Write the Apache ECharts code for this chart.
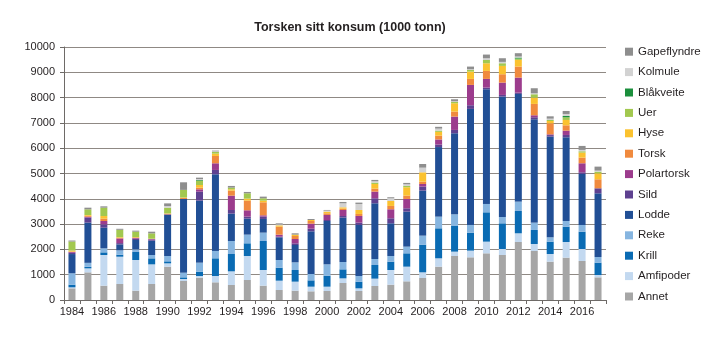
<!DOCTYPE html>
<html>
<head>
<meta charset="utf-8">
<script src="https://cdn.jsdelivr.net/npm/echarts@6/dist/echarts.min.js"></script>
<style>
html,body{margin:0;padding:0;background:#fff;}
#c{width:719px;height:341px;}
</style>
</head>
<body>
<div id="c"></div>
<script>
const years = ['1984','1985','1986','1987','1988','1989','1990','1991','1992','1993','1994','1995','1996','1997','1998','1999','2000','2001','2002','2003','2004','2005','2006','2007','2008','2009','2010','2011','2012','2013','2014','2015','2016','2017'];

const annet      = [461,1093,566,632,369,632,1317,750,883,699,593,791,567,395,369,343,356,672,356,554,606,738,870,1318,1740,1687,1845,1779,2293,1937,1516,1674,1542,896];
const amfipoder  = [40,158,1212,1080,1212,777,132,79,66,250,540,949,619,369,356,184,171,184,105,290,580,580,224,330,171,264,461,237,343,277,303,619,474,92];
const krill      = [105,60,105,79,316,237,79,66,171,699,685,501,1147,514,461,250,435,356,264,540,330,527,1094,1186,1015,712,1160,1015,883,554,488,606,685,488];
const reke       = [450,158,158,171,105,132,211,184,356,290,514,343,330,303,303,250,448,290,224,237,224,264,356,461,461,303,330,250,369,290,171,224,264,224];
const lodde      = [760,1590,817,237,369,566,1620,2913,2451,3031,1081,633,540,896,685,1687,1713,1753,2017,2201,1292,1384,1779,2750,3203,4587,4534,4758,4257,4086,3980,3308,2017,2517];
const sild       = [50,200,132,50,53,40,26,0,356,171,145,79,92,26,66,105,40,66,92,198,198,132,158,100,132,145,66,66,53,79,60,92,66,198];
const polartorsk = [30,30,132,184,40,26,0,0,92,264,567,250,53,79,171,198,198,237,264,264,356,369,105,200,527,804,343,488,593,79,30,171,356,0];
const torsk      = [20,40,92,26,0,0,26,40,66,290,198,382,514,316,119,105,66,53,79,119,132,132,92,150,198,237,316,330,435,448,435,211,224,356];
const hyse       = [40,30,105,26,26,13,13,20,105,92,53,79,66,53,53,40,66,53,158,184,198,330,369,150,330,290,303,330,264,250,92,211,198,237];
const uer        = [355,224,330,290,211,211,224,300,171,66,66,211,92,0,0,0,0,0,0,53,0,53,0,50,53,66,132,105,53,132,40,105,53,66];
const blakveite  = [0,0,0,0,0,0,0,0,26,0,0,0,0,0,0,0,0,0,0,0,0,0,0,0,0,0,0,0,40,0,0,53,0,0];
const kolmule    = [0,0,0,0,0,0,66,0,40,26,0,0,0,40,0,0,40,158,237,53,105,66,184,80,26,26,66,53,40,40,53,79,53,40];
const gapeflyndre= [40,66,53,40,40,66,105,300,53,26,66,53,66,40,53,40,26,53,53,53,40,53,145,70,79,105,145,145,132,198,92,119,158,158];

const yTicks = ['0','1000','2000','3000','4000','5000','6000','7000','8000','9000','10000'];

const seriesDefs = [
  ['Annet', annet, '#a6a6a6'],
  ['Amfipoder', amfipoder, '#c3d9f0'],
  ['Krill', krill, '#0a6bb3'],
  ['Reke', reke, '#86b5e0'],
  ['Lodde', lodde, '#214f95'],
  ['Sild', sild, '#5e4190'],
  ['Polartorsk', polartorsk, '#9c3c8d'],
  ['Torsk', torsk, '#f08a3e'],
  ['Hyse', hyse, '#fbc22f'],
  ['Uer', uer, '#a2c84f'],
  ['Blåkveite', blakveite, '#1b8f3c'],
  ['Kolmule', kolmule, '#d2d2d2'],
  ['Gapeflyndre', gapeflyndre, '#8e8e8e']
];

const font = '"Liberation Sans", Arial, sans-serif';
const chart = echarts.init(document.getElementById('c'), null, {renderer:'canvas'});
chart.setOption({
  animation:false,
  backgroundColor:'#ffffff',
  title:{
    text:'Torsken sitt konsum (1000 tonn)',
    left:345, top:16, textAlign:'center',
    textStyle:{fontFamily:'"Liberation Sans Narrow", "Liberation Sans", sans-serif', fontSize:12.5, fontWeight:'bold', color:'#231f20'}
  },
  legend:{
    orient:'vertical',
    left:620, top:40.7,
    itemWidth:8, itemHeight:8, itemGap:8.4,
    icon:'rect',
    data:seriesDefs.map(s=>s[0]).reverse(),
    textStyle:{fontFamily:font, fontSize:11.5, color:'#231f20', lineHeight:12}
  },
  grid:{left:64, right:113, top:47, bottom:41, containLabel:false},
  xAxis:{
    type:'category',
    data:years,
    boundaryGap:true,
    axisLine:{show:true, lineStyle:{color:'#6e6a67', width:1}},
    axisTick:{show:true, interval:0, length:4, lineStyle:{color:'#6e6a67'}},
    axisLabel:{interval:1, fontFamily:font, fontSize:11, color:'#231f20', margin:6},
    splitLine:{show:false}
  },
  yAxis:{
    type:'value',
    min:0, max:10000, interval:1000,
    axisLine:{show:true, lineStyle:{color:'#6e6a67', width:1}},
    axisTick:{show:true, length:4, lineStyle:{color:'#6e6a67'}},
    axisLabel:{fontFamily:font, fontSize:11, color:'#231f20', margin:9,
      formatter:(v)=>yTicks[Math.round(v/1000)]},
    splitLine:{show:true, lineStyle:{color:'#8f8984', width:1}}
  },
  series:seriesDefs.map(s=>({
    name:s[0], type:'bar', stack:'total', data:s[1], barWidth:7,
    itemStyle:{color:s[2]},
    emphasis:{disabled:true}
  }))
});
</script>
</body>
</html>
